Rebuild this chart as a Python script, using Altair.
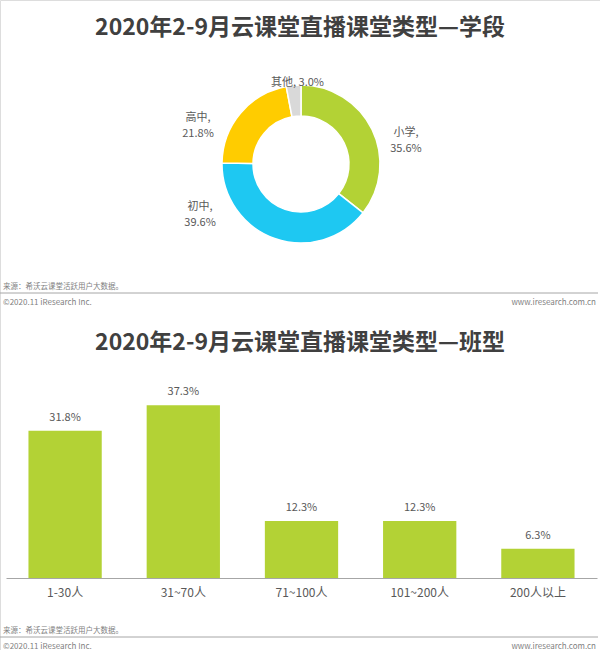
import altair as alt
import pandas as pd

# ---------------- data ----------------
stage_cats = ["小学", "初中", "高中", "其他"]
stage_vals = [35.6, 39.6, 21.8, 3.0]
stage_colors = ["#b3d235", "#1ec8f2", "#ffcc00", "#d9d9d9"]

class_cats = ["1-30人", "31~70人", "71~100人", "101~200人", "200人以上"]
class_vals = [31.8, 37.3, 12.3, 12.3, 6.3]
bar_color = "#b3d235"

title_top = "2020年2-9月云课堂直播课堂类型—学段"
title_bottom = "2020年2-9月云课堂直播课堂类型—班型"
source_text = "来源：希沃云课堂活跃用户大数据。"
copyright_text = "©2020.11  iResearch Inc."
site_text = "www.iresearch.com.cn"

FONT = "Noto Sans CJK SC"
TEXT_COLOR = "#595959"
FOOT_COLOR = "#7f7f7f"
LINE_COLOR = "#a6a6a6"

# ---------------- tables ----------------
stage_labels = []
for c, v in zip(stage_cats, stage_vals):
    if c == "其他":
        stage_labels.append(f"{c}, {v:.1f}%")
    else:
        stage_labels.append(f"{c},\n{v:.1f}%")

df_stage = pd.DataFrame({
    "cat": stage_cats,
    "value": stage_vals,
    "idx": list(range(len(stage_cats))),
    "label": stage_labels,
})
df_class = pd.DataFrame({"cls": class_cats, "v": class_vals})

one = alt.Data(values=[{}])

CX, CY = 301, 164  # donut centre

# ---------------- donut ----------------
donut = alt.Chart(df_stage).mark_arc(
    innerRadius=48, outerRadius=79, stroke="white", strokeWidth=1.5
).encode(
    theta=alt.Theta("value:Q", stack=True, scale=alt.Scale(domain=[0, 100])),
    color=alt.Color("cat:N", scale=alt.Scale(domain=stage_cats, range=stage_colors), legend=None),
    order=alt.Order("idx:Q"),
    x=alt.value(CX),
    y=alt.value(CY),
)

label_style = {
    "小学": dict(dx=24, dy=8),
    "初中": dict(dx=-71, dy=-42),
    "高中": dict(dx=-34, dy=12),
    "其他": dict(dx=5, dy=9),
}

label_base = alt.Chart(df_stage).transform_window(
    cum="sum(value)", sort=[alt.SortField("idx")], frame=[None, 0]
).transform_calculate(mid="datum.cum - datum.value / 2")

donut_labels = []
for c in stage_cats:
    st = label_style[c]
    donut_labels.append(
        label_base.transform_filter(alt.datum.cat == c).mark_text(
            radius=90, dx=st["dx"], dy=st["dy"], align="center", baseline="middle",
            font=FONT, fontSize=11, color=TEXT_COLOR, lineBreak="\n", lineHeight=16,
        ).encode(
            theta=alt.Theta("mid:Q", stack=False, scale=alt.Scale(domain=[0, 100])),
            text="label:N",
            x=alt.value(CX),
            y=alt.value(CY),
        )
    )

# ---------------- bars ----------------
xscale = alt.Scale(range=[6, 597], paddingInner=0.38, paddingOuter=0.19)
yscale = alt.Scale(domain=[0, 40], range=[578, 392.8], nice=False, zero=True)

bars = alt.Chart(df_class).mark_bar(color=bar_color).encode(
    x=alt.X("cls:N", sort=class_cats, scale=xscale, title=None,
            axis=alt.Axis(offset=-72, ticks=False, tickSize=0, labelPadding=9,
                          labelFont=FONT, labelFontSize=12, labelColor=TEXT_COLOR,
                          labelAngle=0, domainColor=LINE_COLOR, domainWidth=1,
                          grid=False)),
    y=alt.Y("v:Q", scale=yscale, axis=None),
)

bar_labels = alt.Chart(df_class).transform_calculate(
    lab="format(datum.v, '.1f') + '%'"
).mark_text(dy=-13, baseline="middle", font=FONT, fontSize=11, color=TEXT_COLOR).encode(
    x=alt.X("cls:N", sort=class_cats, scale=xscale),
    y=alt.Y("v:Q", scale=yscale),
    text="lab:N",
)

# ---------------- titles & footers ----------------
def title(txt, y):
    return alt.Chart(one).mark_text(
        font=FONT, fontSize=23, fontWeight="bold", color="#404040",
        align="center", baseline="middle",
    ).encode(x=alt.value(300), y=alt.value(y), text=alt.value(txt))


def footer(y_src):
    src = alt.Chart(one).mark_text(
        font=FONT, fontSize=7.5, color=FOOT_COLOR, align="left", baseline="middle"
    ).encode(x=alt.value(3), y=alt.value(y_src), text=alt.value(source_text))
    line = alt.Chart(one).mark_rule(color=LINE_COLOR, strokeWidth=1).encode(
        x=alt.value(0), x2=alt.value(598), y=alt.value(y_src + 6)
    )
    cp = alt.Chart(one).mark_text(
        font=FONT, fontSize=8, color=FOOT_COLOR, align="left", baseline="middle"
    ).encode(x=alt.value(3), y=alt.value(y_src + 16), text=alt.value(copyright_text))
    site = alt.Chart(one).mark_text(
        font=FONT, fontSize=8, color=FOOT_COLOR, align="right", baseline="middle"
    ).encode(x=alt.value(596), y=alt.value(y_src + 16), text=alt.value(site_text))
    return [src, line, cp, site]


layers = (
    [title(title_top, 28), donut] + donut_labels + footer(287)
    + [title(title_bottom, 343), bars, bar_labels] + footer(631)
)

chart = alt.layer(*layers).properties(
    width=600, height=650,
    autosize=alt.AutoSizeParams(type="none"),
    padding=0,
).configure_view(stroke=None).configure(background="white")

chart.save("out.html", embed_options={"renderer": "svg", "actions": False})
